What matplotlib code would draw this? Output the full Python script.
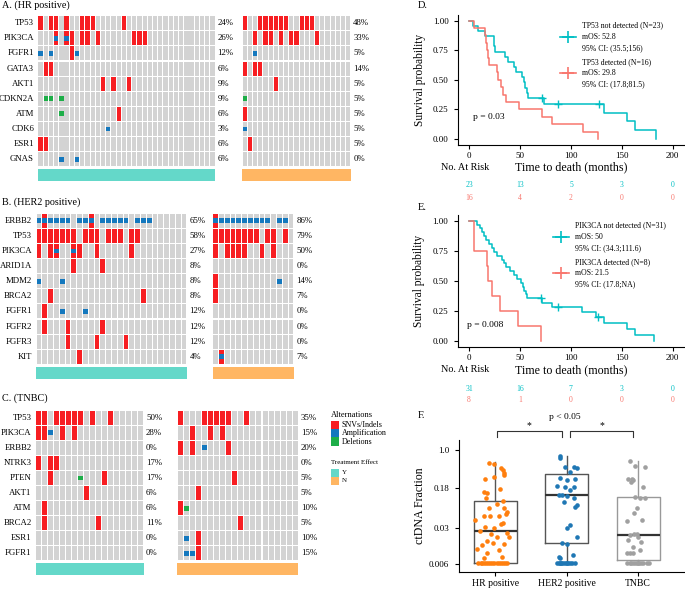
import matplotlib
matplotlib.use('Agg')
import matplotlib.pyplot as plt
import matplotlib.transforms as mtrans
from matplotlib.lines import Line2D
from matplotlib.patches import Rectangle
import numpy as np

plt.rcParams['font.family'] = ['Liberation Serif', 'DejaVu Serif']

# ---------------- data: oncoprints ----------------
a_genes = ['TP53', 'PIK3CA', 'FGFR1', 'GATA3', 'AKT1', 'CDKN2A', 'ATM', 'CDK6', 'ESR1', 'GNAS']
a_y_n, a_n_n = 34, 21
a_y_mut = [[0, 2, 3, 5, 8, 9, 10, 16], [3, 5, 6, 8, 9, 11, 18, 19, 20], [6], [1, 2], [12, 14, 17], [], [15], [], [0, 1], []]
a_y_amp = [[], [3, 5], [0, 2, 7], [], [], [], [], [13], [], [4, 7]]
a_y_del = [[], [], [], [], [], [1, 2, 4], [4], [], [], []]
a_n_mut = [[0, 3, 4, 5, 6, 7, 8, 11, 12, 13], [2, 4, 5, 7, 9, 10, 14], [], [0, 2, 3], [6], [], [0], [], [1], []]
a_n_amp = [[], [], [2], [], [], [], [], [0], [], []]
a_n_del = [[], [], [], [], [], [0], [], [], [], []]

b_genes = ['ERBB2', 'TP53', 'PIK3CA', 'ARID1A', 'MDM2', 'BRCA2', 'FGFR1', 'FGFR2', 'FGFR3', 'KIT']
b_y_n, b_n_n = 26, 14
b_y_mut = [[1, 9], [0, 1, 2, 3, 4, 5, 6, 8, 9, 10, 12, 13, 14, 16, 17], [0, 2, 3, 6, 7, 10, 16], [6, 11], [],
           [2, 18], [1], [1, 5, 11], [5, 10, 15], [7]]
b_y_amp = [[0, 1, 2, 3, 4, 5, 7, 8, 9, 11, 12, 13, 14, 15, 17, 18, 19], [], [3, 6], [], [0, 4], [], [4, 8], [], [], []]
b_y_del = [[] for _ in range(10)]
b_n_mut = [[0], [0, 1, 2, 3, 4, 5, 6, 7, 9, 10, 12], [0, 2, 3, 4, 5, 8, 10], [], [0], [0], [], [], [], [1]]
b_n_amp = [[0, 1, 2, 3, 4, 5, 6, 7, 8, 9, 11, 12], [], [], [], [11], [], [], [], [], [1]]
b_n_del = [[] for _ in range(10)]

c_genes = ['TP53', 'PIK3CA', 'ERBB2', 'NTRK3', 'PTEN', 'AKT1', 'ATM', 'BRCA2', 'ESR1', 'FGFR1']
c_y_n, c_n_n = 18, 20
c_y_mut = [[0, 1, 3, 4, 5, 6, 7, 9, 12], [0, 1, 4, 6], [], [0, 2, 3], [2, 11], [8], [1], [1, 10], [], []]
c_y_amp = [[], [2], [], [], [], [], [], [], [], []]
c_y_del = [[], [], [], [], [7], [], [], [], [], []]
c_n_mut = [[0, 4, 5, 6, 7, 8, 11], [2, 5, 7], [0, 2, 8], [], [9], [3], [0], [10], [3], [3]]
c_n_amp = [[], [], [4], [], [], [], [], [], [1], [1, 2]]
c_n_del = [[], [], [], [], [], [], [1], [], [], []]

# ---------------- data: survival ----------------
d_nd_time = [4, 9, 15, 24, 24.5, 25, 35, 38, 44, 46, 52, 53.5, 55, 57, 58, 71, 73, 87, 127, 132, 155, 163, 183]
d_nd_event = [1] * 15 + [0, 1, 0, 0, 1, 1, 1, 1]
d_d_time = [5, 15, 16, 17, 18, 19, 27, 28, 31, 33, 36, 49, 71, 81, 112, 126]
d_d_event = [1] * 16

e_nd_time = [8, 11, 13, 14.5, 16.5, 20, 23, 25, 27, 32, 34, 36, 40, 44, 47, 51, 53, 54, 56, 57,
             70.5, 72, 81, 87, 111, 125, 127, 132, 155, 163, 182]
e_nd_event = [1] * 20 + [0, 1, 1, 0, 1, 1, 0, 1, 1, 1, 1]
e_d_time = [4.5, 4.5, 17.5, 19, 23, 30, 48.5, 71]
e_d_event = [1] * 8

risk_times = [0, 50, 100, 150, 200]
d_labels = ['TP53 not detected (N=23)\nmOS: 52.8\n95% CI: (35.5;156)',
            'TP53 detected (N=16)\nmOS: 29.8\n95% CI: (17.8;81.5)']
e_labels = ['PIK3CA not detected (N=31)\nmOS: 50\n95% CI: (34.3;111.6)',
            'PIK3CA detected (N=8)\nmOS: 21.5\n95% CI: (17.8;NA)']

# ---------------- data: ctDNA fraction ----------------
groups = ['HR positive', 'HER2 positive', 'TNBC']
hr_vals = [0.57, 0.53, 0.44, 0.41, 0.36, 0.32, 0.30, 0.276, 0.171, 0.15, 0.148, 0.114, 0.103, 0.089, 0.073,
           0.063, 0.075, 0.052, 0.052, 0.052, 0.057, 0.038, 0.043, 0.036, 0.031, 0.0297, 0.026, 0.023, 0.0245,
           0.0205, 0.017, 0.015, 0.0156, 0.0143, 0.0112, 0.0097, 0.0077, 0.0083, 0.012, 0.02] + [0.0063] * 15
hr_jit = [-0.08, -0.01, 0.08, 0.11, 0.13, 0.12, -0.02, -0.14, 0.07, -0.15, -0.12, -0.13, 0.11, 0.03, -0.09,
          0.16, 0.13, -0.15, -0.07, 0.06, 0.15, 0.11, -0.28, 0.08, -0.14, -0.02, -0.21, -0.06, 0.16,
          0.03, -0.12, 0.13, -0.03, -0.19, 0.05, -0.12, -0.15, 0.09, -0.26, 0.19,
          -0.24, -0.2, -0.16, -0.13, -0.1, -0.07, -0.04, -0.01, 0.02, 0.05, 0.08, 0.11, 0.14, 0.17, -0.18]
her2_vals = [0.76, 0.69, 0.46, 0.46, 0.44, 0.38, 0.28, 0.27, 0.26, 0.20, 0.187, 0.19, 0.166, 0.133, 0.133,
             0.127, 0.114, 0.098, 0.085, 0.078, 0.0345, 0.0297, 0.0205, 0.0156, 0.0145, 0.0083, 0.0077,
             0.0088] + [0.0063] * 12
her2_jit = [-0.10, -0.09, -0.02, 0.10, 0.14, 0.04, -0.09, 0.12, 0.01, -0.14, -0.02, 0.10, 0.05, -0.11, -0.07,
            0.0, 0.10, -0.04, 0.14, 0.12, 0.05, 0.0, 0.14, -0.06, 0.0, -0.11, -0.09, 0.09,
            -0.13, -0.11, -0.08, -0.06, -0.04, -0.01, 0.02, 0.05, 0.08, -0.10, 0.11, 0.0]
tnbc_vals = [0.61, 0.49, 0.46, 0.27, 0.27, 0.26, 0.24, 0.19, 0.12, 0.114, 0.117, 0.073, 0.06, 0.043, 0.042,
             0.023, 0.022, 0.023, 0.0205, 0.0176, 0.016, 0.013, 0.0112, 0.0097, 0.0097, 0.0099] + [0.0063] * 12
tnbc_jit = [-0.12, -0.04, 0.09, -0.14, -0.09, -0.07, -0.10, 0.07, -0.04, 0.03, 0.10, -0.02, -0.06, 0.05, -0.16,
            -0.02, -0.12, -0.06, 0.0, -0.14, 0.04, -0.07, 0.02, -0.11, -0.07, -0.16,
            -0.15, -0.12, -0.08, -0.05, -0.02, 0.01, 0.04, 0.07, 0.12, -0.10, 0.0, 0.15]
box_stats = [dict(whislo=0.0063, q1=0.0064, med=0.0267, q3=0.101, whishi=0.575),
             dict(whislo=0.0063, q1=0.0152, med=0.131, q3=0.336, whishi=0.764),
             dict(whislo=0.0063, q1=0.0072, med=0.022, q3=0.12, whishi=0.62)]

RED, BLUE, GREEN, GREY = '#F71E22', '#1478BE', '#1DAE48', '#D3D3D3'
TEAL, ORANGE = '#64D8C9', '#FFB663'
CYAN, SALMON = '#00BFC4', '#F8766D'
PT_COLS = ['#FF7F0E', '#1F77B4', '#A0A0A0']

W, H = 685, 589
fig = plt.figure(figsize=(W / 100, H / 100), dpi=100)


def box(l, t, r, b):
    return [l / W, 1 - b / H, (r - l) / W, (b - t) / H]


def onco(rect, n, genes, mut, amp, dele, bar_col):
    ax = fig.add_axes(rect)
    for r in range(len(genes)):
        ax.bar(np.arange(n) + 0.09, 0.93, bottom=r + 0.035, width=0.82, align='edge', color=GREY, lw=0)
        if mut[r]:
            ax.bar(np.array(mut[r]) + 0.09, 0.93, bottom=r + 0.035, width=0.82, align='edge', color=RED, lw=0)
        if amp[r]:
            ax.bar(np.array(amp[r]) + 0.09, 0.32, bottom=r + 0.34, width=0.82, align='edge', color=BLUE, lw=0)
        if dele[r]:
            ax.bar(np.array(dele[r]) + 0.09, 0.32, bottom=r + 0.34, width=0.82, align='edge', color=GREEN, lw=0)
        cnt = len(set(mut[r]) | set(amp[r]) | set(dele[r]))
        ax.annotate(f'{round(100 * cnt / n)}%', xy=(n, r + 0.5), xytext=(2.5, 0), textcoords='offset pixels',
                    ha='left', va='center', fontsize=6.3, annotation_clip=False)
    ax.bar(0, 0.8, bottom=10.15, width=n, align='edge', color=bar_col, lw=0)
    ax.set_xlim(0, n)
    ax.set_ylim(11, 0)
    ax.axis('off')
    return ax


def gene_labels(ax, genes):
    for r, g in enumerate(genes):
        ax.annotate(g, xy=(0, r + 0.5), xytext=(-4, 0), textcoords='offset pixels',
                    ha='right', va='center', fontsize=6.3, annotation_clip=False)


ax = onco(box(38, 15.7, 215, 181.8), a_y_n, a_genes, a_y_mut, a_y_amp, a_y_del, TEAL)
gene_labels(ax, a_genes)
onco(box(242.3, 15.7, 350.7, 181.8), a_n_n, a_genes, a_n_mut, a_n_amp, a_n_del, ORANGE)
ax = onco(box(36, 213.3, 187, 379.4), b_y_n, b_genes, b_y_mut, b_y_amp, b_y_del, TEAL)
gene_labels(ax, b_genes)
onco(box(212.7, 213.3, 294, 379.4), b_n_n, b_genes, b_n_mut, b_n_amp, b_n_del, ORANGE)
ax = onco(box(35.5, 410, 143.5, 576.1), c_y_n, c_genes, c_y_mut, c_y_amp, c_y_del, TEAL)
gene_labels(ax, c_genes)
onco(box(177.3, 410, 298.3, 576.1), c_n_n, c_genes, c_n_mut, c_n_amp, c_n_del, ORANGE)

fig.text(2 / W, 1 - 5 / H, 'A. (HR positive)', fontsize=7.3, va='center')
fig.text(2 / W, 1 - 202 / H, 'B. (HER2 positive)', fontsize=7.3, va='center')
fig.text(2 / W, 1 - 398 / H, 'C. (TNBC)', fontsize=7.3, va='center')

# legend of the oncoprint
fig.text(331 / W, 1 - 415 / H, 'Alternations', fontsize=6, va='center')
for i, (c, lab) in enumerate(zip([RED, BLUE, GREEN], ['SNVs/Indels', 'Amplification', 'Deletions'])):
    top = 421 + 8.2 * i
    fig.add_artist(Rectangle((331 / W, 1 - (top + 8.2) / H), 8.3 / W, 8.2 / H, color=c, lw=0))
    fig.text(341.5 / W, 1 - (top + 4.1) / H, lab, fontsize=5.8, va='center')
fig.text(331 / W, 1 - 462 / H, 'Treatment Effect', fontsize=5, va='center')
for i, (c, lab) in enumerate(zip([TEAL, ORANGE], ['Y', 'N'])):
    top = 469 + 8 * i
    fig.add_artist(Rectangle((331 / W, 1 - (top + 8) / H), 8 / W, 8 / H, color=c, lw=0))
    fig.text(341.5 / W, 1 - (top + 4) / H, lab, fontsize=5, va='center')


# ---------------- survival panels ----------------
def km(times, events):
    t = np.array(times, float)
    e = np.array(events)
    xs, ys, s = [0.0], [1.0], 1.0
    cx, cy = [], []
    for u in np.unique(t):
        n = np.sum(t >= u)
        d = np.sum((t == u) & (e == 1))
        if d > 0:
            s *= 1 - d / n
            xs.append(u)
            ys.append(s)
        if np.any((t == u) & (e == 0)):
            cx.append(u)
            cy.append(s)
    return xs, ys, cx, cy


def style(ax):
    for sp in ['top', 'right']:
        ax.spines[sp].set_visible(False)
    for sp in ['left', 'bottom']:
        ax.spines[sp].set_linewidth(0.8)
    ax.tick_params(axis='x', length=3, width=0.8, labelsize=6.5, pad=2)
    ax.tick_params(axis='y', length=3, width=0.8, labelsize=6.5, pad=4)


def km_panel(rect, letter, letter_y, series, labels, pval, pxy, xlab_y, risk_y, leg_x):
    ax = fig.add_axes(rect)
    style(ax)
    handles = []
    for (tm, ev), col in zip(series, [CYAN, SALMON]):
        xs, ys, cx, cy = km(tm, ev)
        ax.step(xs, ys, where='post', color=col, lw=1.1)
        ax.plot(cx, cy, ls='none', marker='+', ms=6, mew=1.0, color=col)
        handles.append(Line2D([0], [0], color=col, lw=1.2, marker='+', ms=8, mew=1.2))
    ax.set_xlim(-10.8, 211)
    ax.set_ylim(-0.05, 1.05)
    ax.set_xticks([0, 50, 100, 150, 200])
    ax.set_yticks([0, 0.25, 0.5, 0.75, 1.0])
    ax.set_yticklabels(['0.00', '0.25', '0.50', '0.75', '1.00'])
    ax.set_ylabel('Survival probability', fontsize=8.3)
    ax.yaxis.set_label_coords(-0.145, 0.5)
    ax.set_xlabel('Time to death (months)', fontsize=8.6)
    ax.xaxis.set_label_coords(0.5, xlab_y)
    ax.text(pxy[0], pxy[1], pval, fontsize=6.8, va='center')
    leg = ax.legend(handles, labels, loc='upper left', bbox_to_anchor=(leg_x, 0.95), frameon=False,
                    fontsize=5.6, handlelength=2.1, handletextpad=0.7, labelspacing=0.75,
                    borderpad=0, borderaxespad=0)
    for t in leg.get_texts():
        t.set_linespacing(1.55)
    fig.text(418 / W, 1 - letter_y / H, letter, fontsize=7.5, va='center')
    fig.text(465 / W, 1 - (letter_y + 162) / H, 'No. At Risk', fontsize=7.3, ha='center', va='center')
    tr = mtrans.blended_transform_factory(ax.transData, fig.transFigure)
    for (tm, ev), col, ry in zip(series, [CYAN, SALMON], risk_y):
        for rt in risk_times:
            ax.text(rt, 1 - ry / H, str(int(np.sum(np.array(tm) >= rt))), transform=tr,
                    ha='center', va='center', fontsize=5.5, color=col)
    return ax


km_panel(box(458.3, 14.8, 684, 144.9), 'D.', 5, [(d_nd_time, d_nd_event), (d_d_time, d_d_event)],
         d_labels, 'p = 0.03', (4, 0.186), -0.125, [185, 197.5], 0.45)
km_panel(box(458, 214.7, 684, 347), 'E.', 208, [(e_nd_time, e_nd_event), (e_d_time, e_d_event)],
         e_labels, 'p = 0.008', (-2.3, 0.133), -0.128, [389, 400.5], 0.42)

# ---------------- ctDNA panel ----------------
axf = fig.add_axes(box(458.7, 440, 684, 571.7))
style(axf)
axf.set_yscale('log')
edge_cols = ['#555555', '#555555', '#999999']
for i, (st, ec) in enumerate(zip(box_stats, edge_cols)):
    axf.bxp([st], positions=[i], widths=0.6, showfliers=False, showcaps=False, manage_ticks=False,
            boxprops=dict(color=ec, lw=1.0), whiskerprops=dict(color=ec, lw=1.0),
            medianprops=dict(color='#333333', lw=1.6))
for i, (vals, jit) in enumerate(zip([hr_vals, her2_vals, tnbc_vals], [hr_jit, her2_jit, tnbc_jit])):
    axf.scatter(i + np.array(jit), vals, s=11, color=PT_COLS[i], lw=0, zorder=3)
axf.set_ylim(0.00425, 1.57)
axf.set_xlim(-0.51, 2.64)
axf.set_yticks([0.006, 0.03, 0.18, 1.0])
axf.set_yticklabels(['0.006', '0.03', '0.18', '1.0'])
axf.yaxis.set_minor_locator(matplotlib.ticker.NullLocator())
axf.set_xticks([0, 1, 2])
axf.set_xticklabels(groups, fontsize=7)
axf.set_ylabel('ctDNA Fraction', fontsize=8.6)
axf.yaxis.set_label_coords(-0.145, 0.5)
for x0, x1 in [(0.02, 0.93), (1.05, 1.93)]:
    axf.plot([x0, x0, x1, x1], [1.77, 2.35, 2.35, 1.77], color='#333333', lw=0.8, clip_on=False)
    axf.text((x0 + x1) / 2, 2.45, '*', ha='center', va='bottom', fontsize=7)
axf.text(0.98, 4.4, 'p < 0.05', ha='center', va='center', fontsize=6.8)
fig.text(418 / W, 1 - 415 / H, 'F.', fontsize=7.5, va='center')

fig.savefig('out.png', dpi=100)
